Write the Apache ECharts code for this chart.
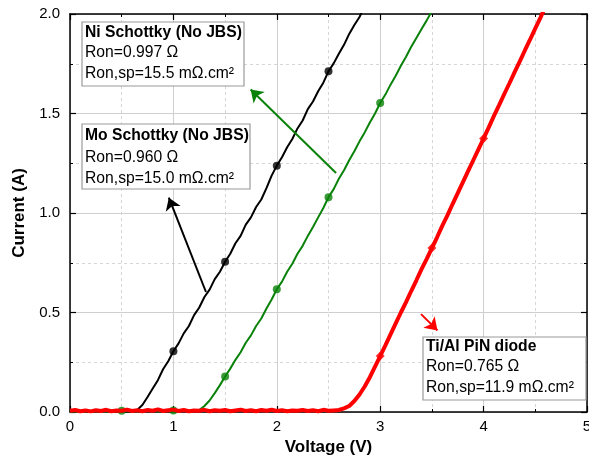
<!DOCTYPE html>
<html>
<head>
<meta charset="utf-8">
<script src="https://cdn.jsdelivr.net/npm/echarts@6/dist/echarts.min.js"></script>
<style>html,body{margin:0;padding:0;background:#fff;overflow:hidden}#c{width:589px;height:464px}</style>
</head>
<body>
<div id="c"></div>
<script>
// ---- data ----
var xTicks = [0, 1, 2, 3, 4, 5];
var yTicks = [0.0, 0.5, 1.0, 1.5, 2.0];

var moSchottky = [
  [0.00,0.002],[0.10,0.004],[0.20,0.001],[0.30,0.005],[0.40,0.002],[0.50,0.004],[0.55,0.003],
  [0.60,0.004],[0.65,0.010],[0.70,0.035],[0.75,0.075],[0.80,0.118],[0.85,0.160],[0.90,0.215],
  [0.95,0.255],[1.00,0.305],[1.05,0.345],[1.10,0.395],[1.15,0.432],[1.20,0.487],[1.25,0.525],
  [1.30,0.578],[1.35,0.615],[1.40,0.668],[1.45,0.705],[1.50,0.755],[1.55,0.795],[1.60,0.848],
  [1.65,0.885],[1.70,0.942],[1.75,0.978],[1.80,1.030],[1.85,1.068],[1.90,1.125],[1.95,1.188],
  [2.00,1.238],[2.05,1.280],[2.10,1.330],[2.15,1.372],[2.20,1.425],[2.25,1.465],[2.30,1.522],
  [2.35,1.560],[2.40,1.612],[2.45,1.655],[2.50,1.712],[2.55,1.752],[2.60,1.800],[2.65,1.845],
  [2.70,1.900],[2.75,1.945],[2.80,1.985],[2.85,2.040]
];
var niSchottky = [
  [0.00,0.003],[0.10,0.001],[0.20,0.004],[0.30,0.002],[0.40,0.003],[0.50,0.006],[0.60,0.002],
  [0.70,0.004],[0.80,0.010],[0.85,0.003],[0.90,0.005],[1.00,0.008],[1.05,0.003],[1.10,0.006],
  [1.15,0.004],[1.20,0.007],[1.25,0.010],[1.30,0.030],[1.35,0.058],[1.40,0.095],[1.45,0.135],
  [1.50,0.178],[1.55,0.218],[1.60,0.262],[1.65,0.300],[1.70,0.348],[1.75,0.385],[1.80,0.432],
  [1.85,0.470],[1.90,0.520],[1.95,0.565],[2.00,0.617],[2.05,0.655],[2.10,0.705],[2.15,0.745],
  [2.20,0.795],[2.25,0.835],[2.30,0.885],[2.35,0.930],[2.40,0.978],[2.45,1.025],[2.50,1.079],
  [2.55,1.120],[2.60,1.172],[2.65,1.215],[2.70,1.265],[2.75,1.310],[2.80,1.360],[2.85,1.405],
  [2.90,1.455],[2.95,1.500],[3.00,1.553],[3.05,1.595],[3.10,1.645],[3.15,1.690],[3.20,1.740],
  [3.25,1.785],[3.30,1.835],[3.35,1.880],[3.40,1.925],[3.45,1.968],[3.50,2.015]
];
var tiAlPiN = [
  [0.00,0.006],[0.05,0.010],[0.10,0.004],[0.15,0.008],[0.20,0.003],[0.25,0.009],[0.30,0.005],
  [0.35,0.011],[0.40,0.004],[0.45,0.008],[0.50,0.006],[0.55,0.012],[0.60,0.005],[0.65,0.009],
  [0.70,0.004],[0.75,0.010],[0.80,0.006],[0.85,0.013],[0.90,0.005],[0.95,0.009],[1.00,0.012],
  [1.05,0.005],[1.10,0.010],[1.15,0.004],[1.20,0.008],[1.25,0.006],[1.30,0.011],[1.35,0.004],
  [1.40,0.009],[1.45,0.006],[1.50,0.010],[1.55,0.004],[1.60,0.008],[1.65,0.012],[1.70,0.005],
  [1.75,0.009],[1.80,0.004],[1.85,0.010],[1.90,0.006],[1.95,0.011],[2.00,0.005],[2.05,0.009],
  [2.10,0.004],[2.15,0.008],[2.20,0.006],[2.25,0.010],[2.30,0.005],[2.35,0.009],[2.40,0.004],
  [2.45,0.011],[2.50,0.006],[2.55,0.008],[2.60,0.010],[2.65,0.018],[2.70,0.030],[2.75,0.055],
  [2.80,0.088],[2.85,0.128],[2.90,0.175],[2.95,0.228],[3.00,0.281],[3.05,0.335],[3.10,0.390],
  [3.15,0.445],[3.20,0.500],[3.25,0.552],[3.30,0.608],[3.35,0.662],[3.40,0.718],[3.45,0.770],
  [3.50,0.824],[3.55,0.878],[3.60,0.935],[3.65,0.988],[3.70,1.045],[3.75,1.100],[3.80,1.155],
  [3.85,1.210],[3.90,1.265],[3.95,1.320],[4.00,1.375],[4.05,1.430],[4.10,1.488],[4.15,1.542],
  [4.20,1.598],[4.25,1.652],[4.30,1.708],[4.35,1.762],[4.40,1.818],[4.45,1.872],[4.50,1.928],
  [4.55,1.982],[4.60,2.040]
];
var moMarkers = [[1.0,0.305],[1.5,0.755],[2.0,1.238],[2.5,1.712]];
var niMarkers = [[0.5,0.006],[1.0,0.008],[1.5,0.178],[2.0,0.617],[2.5,1.079],[3.0,1.553]];
var tiMarkers = [[3.0,0.281],[3.5,0.824],[4.0,1.375]];

// arrows: [tail, head] in data coordinates
var moArrow = [[1.315,0.603],[0.956,1.077]];
var niArrow = [[2.573,1.201],[1.747,1.621]];
var tiArrow = [[3.395,0.492],[3.554,0.410]];

var moLabel = ['Mo Schottky (No JBS)', 'Ron=0.960 Ω', 'Ron,sp=15.0 mΩ.cm²'];
var niLabel = ['Ni Schottky (No JBS)', 'Ron=0.997 Ω', 'Ron,sp=15.5 mΩ.cm²'];
var tiLabel = ['Ti/Al PiN diode', 'Ron=0.765 Ω', 'Ron,sp=11.9 mΩ.cm²'];

var FONT = '"Liberation Sans", Arial, sans-serif';

function arrow(pts, color) {
  return {
    silent: true, animation: false,
    symbol: 'none',
    lineStyle: { color: color, width: 2, type: 'solid' },
    label: { show: false },
    emphasis: { disabled: true },
    data: [[
      { coord: pts[0], symbol: 'none', symbolSize: 1 },
      { coord: pts[1], symbol: 'arrow', symbolSize: 12 }
    ]]
  };
}

function box(x, y, w, h, lines, ys) {
  var els = [{
    type: 'rect', shape: { x: x, y: y, width: w, height: h },
    style: { fill: '#fff', stroke: '#9a9a9a', lineWidth: 1.2 }, z: 1
  }];
  for (var i = 0; i < lines.length; i++) {
    els.push({
      type: 'text', x: x + 3, y: ys[i], z: 1,
      style: {
        text: lines[i], fill: '#000',
        font: (i === 0 ? 'bold ' : '') + '15.7px ' + FONT,
        textVerticalAlign: 'middle', verticalAlign: 'middle'
      }
    });
  }
  return els;
}

var chart = echarts.init(document.getElementById('c'), null, { renderer: 'canvas' });

function xAxisBase(pos, showLabel) {
  return {
    type: 'value', position: pos, min: 0, max: 5, interval: 1,
    axisLine: { show: true, onZero: false, lineStyle: { color: '#000', width: 1.5 } },
    axisTick: { show: true, inside: true, length: 6, lineStyle: { color: '#000', width: 1.2 } },
    minorTick: { show: true, splitNumber: 2, length: 3, lineStyle: { color: '#000', width: 1 } },
    splitLine: { show: showLabel, lineStyle: { color: '#cfcfcf', width: 1 } },
    minorSplitLine: { show: showLabel, lineStyle: { color: '#d6d6d6', width: 1, type: [3, 3] } },
    axisLabel: { show: showLabel, color: '#000', fontSize: 15, fontFamily: FONT, margin: 7,
      formatter: function (v) { return String(v); } }
  };
}
function yAxisBase(pos, showLabel) {
  return {
    type: 'value', position: pos, min: 0, max: 2, interval: 0.5,
    axisLine: { show: true, onZero: false, lineStyle: { color: '#000', width: 1.5 } },
    axisTick: { show: true, inside: true, length: 6, lineStyle: { color: '#000', width: 1.2 } },
    minorTick: { show: true, splitNumber: 2, length: 3, lineStyle: { color: '#000', width: 1 } },
    splitLine: { show: showLabel, lineStyle: { color: '#cfcfcf', width: 1 } },
    minorSplitLine: { show: showLabel, lineStyle: { color: '#d6d6d6', width: 1, type: [3, 3] } },
    axisLabel: { show: showLabel, color: '#000', fontSize: 15, fontFamily: FONT, margin: 10,
      formatter: function (v) { return v.toFixed(1); } }
  };
}

var xMain = xAxisBase('bottom', true);
xMain.name = 'Voltage (V)';
xMain.nameLocation = 'middle';
xMain.nameGap = 23;
xMain.nameTextStyle = { fontSize: 17, fontWeight: 'bold', color: '#000', fontFamily: FONT, verticalAlign: 'top' };
var yMain = yAxisBase('left', true);
yMain.name = 'Current (A)';
yMain.nameLocation = 'middle';
yMain.nameGap = 32;
yMain.nameTextStyle = { fontSize: 17, fontWeight: 'bold', color: '#000', fontFamily: FONT };

var option = {
  animation: false,
  backgroundColor: '#fff',
  grid: { left: 70, right: 2, top: 14, bottom: 52, containLabel: false, outerBoundsMode: 'none' },
  xAxis: [xMain, xAxisBase('top', false)],
  yAxis: [yMain, yAxisBase('right', false)],
  series: [
    { type: 'line', data: moSchottky, showSymbol: false, symbol: 'none',
      lineStyle: { color: '#000', width: 2 }, z: 3, markLine: arrow(moArrow, '#000') },
    { type: 'scatter', data: moMarkers, symbol: 'circle', symbolSize: 8,
      itemStyle: { color: '#000' }, z: 4 },
    { type: 'line', data: niSchottky, showSymbol: false, symbol: 'none',
      lineStyle: { color: '#0a820a', width: 2 }, z: 3, markLine: arrow(niArrow, '#0a820a') },
    { type: 'scatter', data: niMarkers, symbol: 'circle', symbolSize: 8,
      itemStyle: { color: '#0a820a' }, z: 4 },
    { type: 'line', data: tiAlPiN, showSymbol: false, symbol: 'none',
      lineStyle: { color: '#ff0000', width: 4 }, z: 5, markLine: arrow(tiArrow, '#ff0000') },
    { type: 'scatter', data: tiMarkers, symbol: 'diamond', symbolSize: 9,
      itemStyle: { color: '#ff0000' }, z: 6 }
  ],
  graphic: [].concat(
    box(82, 22, 162, 64, niLabel, [33, 53, 74]),
    box(82, 124, 168, 65, moLabel, [136, 158, 179]),
    box(423, 337, 163, 63, tiLabel, [347, 367, 388])
  )
};
chart.setOption(option);
</script>
</body>
</html>
